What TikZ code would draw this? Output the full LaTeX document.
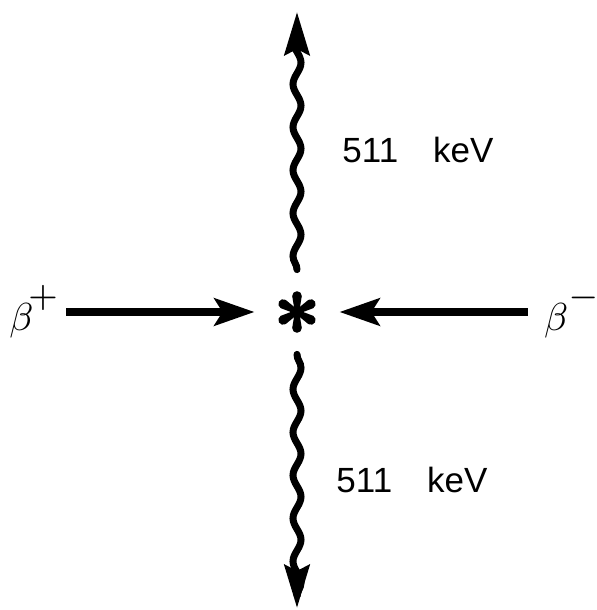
\documentclass[tikz,border=0pt]{standalone}
\usepackage{graphicx}
\usepackage{fontspec}
\newfontfamily\helv{Liberation Sans}
\usepackage{tikz}
\usetikzlibrary{arrows.meta,decorations.pathmorphing,calc}
\newcommand{\bigtxt}[2]{\scalebox{#1}{#2}}
\newcommand{\upsup}[1]{\raisebox{0.26em}{\scalebox{1.25}{$\scriptstyle#1$}}}
\tikzset{
  ar/.style={-{Stealth[length=20pt,width=13.5pt,inset=4pt]},line width=4pt},
  wv/.style={-{Stealth[length=21.5pt,width=12.5pt,inset=3pt]},line width=3.5pt,line cap=round,
    decorate,decoration={snake,segment length=21.5pt,amplitude=2pt,post length=3pt}},
  ctr/.style={circle,minimum size=42pt,inner sep=0pt},
  bt/.style={inner sep=0pt},
  ev/.style={font=\helv\fontsize{17.5}{18}\selectfont}
}
\begin{document}
\begin{tikzpicture}[x=0.5pt,y=0.5pt]
\useasboundingbox (0,0) rectangle (596,610);
% annihilation point and the two particles
\node[ctr] (star) at (297,298) {};
\foreach \a in {90,30,-30,-90,150,210}
  \fill ($(star.center)+(\a+90:2.2)$) -- ($(star.center)+(\a:16)+(\a+90:4.8)$)
    arc[start angle=\a+90,delta angle=-180,radius=4.8] -- ($(star.center)+(\a-90:2.2)$) -- cycle;
\fill (star.center) circle (4.5);
\node[bt,anchor=west] (bp) at (9,298) {\bigtxt{1.95}{$\beta^{\!\upsup{\mathbf{+}}}$}};
\node[bt,anchor=east] (bm) at (601,298) {\bigtxt{1.95}{$\beta^{\upsup{-}}$}};
\coordinate (up) at (297,598);
\coordinate (dn) at (297,2);
\draw[ar,shorten <=3pt] (bp.east |- star) -- (star);
\draw[ar,shorten <=8pt] (bm.west |- star) -- (star);
% the two photons
\draw[wv] (star) -- (up);
\draw[wv] (star) -- (dn);
\node[ev] (ev1) at (418,460) {511\quad keV};
\node[ev] (ev2) at (412,130) {511\quad keV};
\end{tikzpicture}
\end{document}
